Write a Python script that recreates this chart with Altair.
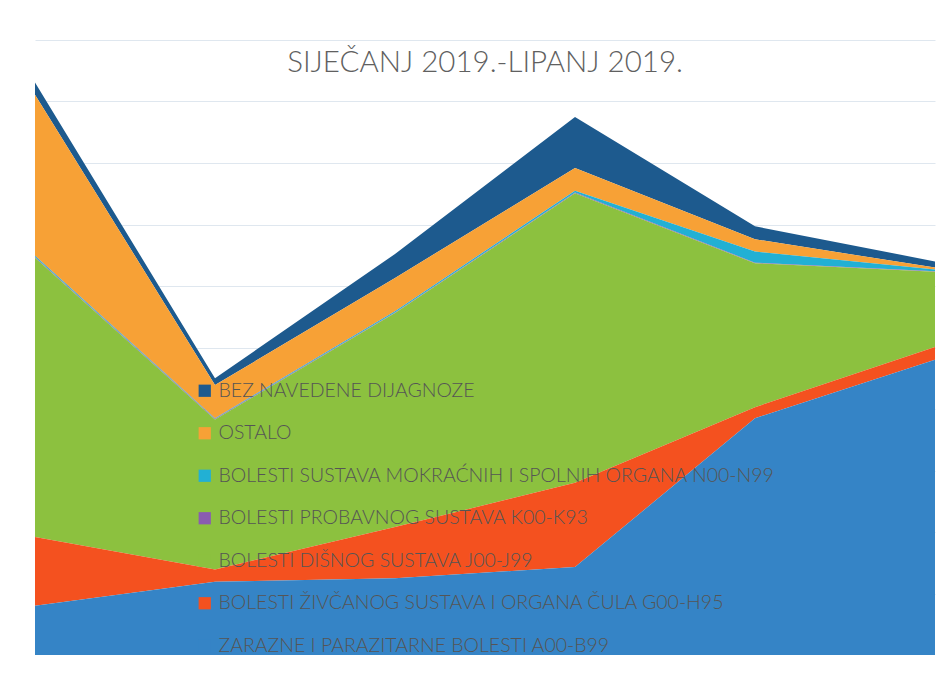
import altair as alt
import pandas as pd

months = ["Siječanj", "Veljača", "Ožujak", "Travanj", "Svibanj", "Lipanj"]

series = [
    "BEZ NAVEDENE DIJAGNOZE",
    "OSTALO",
    "BOLESTI SUSTAVA MOKRAĆNIH I SPOLNIH ORGANA N00-N99",
    "BOLESTI PROBAVNOG SUSTAVA K00-K93",
    "BOLESTI DIŠNOG SUSTAVA J00-J99",
    "BOLESTI ŽIVČANOG SUSTAVA I ORGANA ČULA G00-H95",
    "ZARAZNE I PARAZITARNE BOLESTI A00-B99",
]
colors = ["#1d5a8e", "#f7a136", "#22b0d4", "#8a5cb0", "#8cc13f", "#f4511f", "#3584c6"]

bez = [20, 11, 39, 83, 21, 10]
ostalo = [262, 54, 54, 37, 20, 3]
mokracnih = [2, 1, 2, 3, 18, 3]
probavnog = [1, 1, 1, 1, 1, 1]
disnog = [454, 244, 348, 471, 234, 122]
zivcanog = [112, 20, 83, 137, 18, 21]
zarazne = [80, 119, 125, 143, 385, 480]

values = [bez, ostalo, mokracnih, probavnog, disnog, zivcanog, zarazne]

rows = []
for si, (name, vals) in enumerate(zip(series, values)):
    for m, v in zip(months, vals):
        rows.append({"mjesec": m, "serija": name, "broj": v, "red": len(series) - si})
df = pd.DataFrame(rows)

chart = (
    alt.Chart(df)
    .mark_area(opacity=1)
    .encode(
        x=alt.X("mjesec:O", sort=months, scale=alt.Scale(type="point", padding=0),
                axis=None),
        y=alt.Y("broj:Q", stack="zero", scale=alt.Scale(domain=[0, 1000], nice=False),
                axis=alt.Axis(values=list(range(100, 1001, 100)), labels=False, ticks=False,
                              domain=False, title=None, grid=True, gridColor="#dfe7ef",
                              gridWidth=1)),
        color=alt.Color("serija:N", scale=alt.Scale(domain=series, range=colors),
                        legend=alt.Legend(title=None, orient="none", legendX=160, legendY=341,
                                          symbolType="square", symbolSize=150,
                                          symbolStrokeWidth=0, labelFont="Lato",
                                          labelFontSize=19.5, labelFontWeight=300,
                                          labelColor="#555555",
                                          labelLimit=800, rowPadding=21.5, labelOffset=4)),
        order=alt.Order("red:Q", sort="ascending"),
    )
    .properties(
        width=900,
        height=615,
        title=alt.TitleParams("SIJEČANJ 2019.-LIPANJ 2019.", font="Lato", fontSize=29.5,
                              fontWeight=300, color="#606060", offset=-38,
                              anchor="middle", dx=0),
        padding={"left": 27, "top": 32, "right": 4, "bottom": 8},
        autosize=alt.AutoSizeParams(type="none"),
    )
    .configure_view(stroke=None)
)

chart.save("out.html", embed_options={"renderer": "svg", "actions": False})
